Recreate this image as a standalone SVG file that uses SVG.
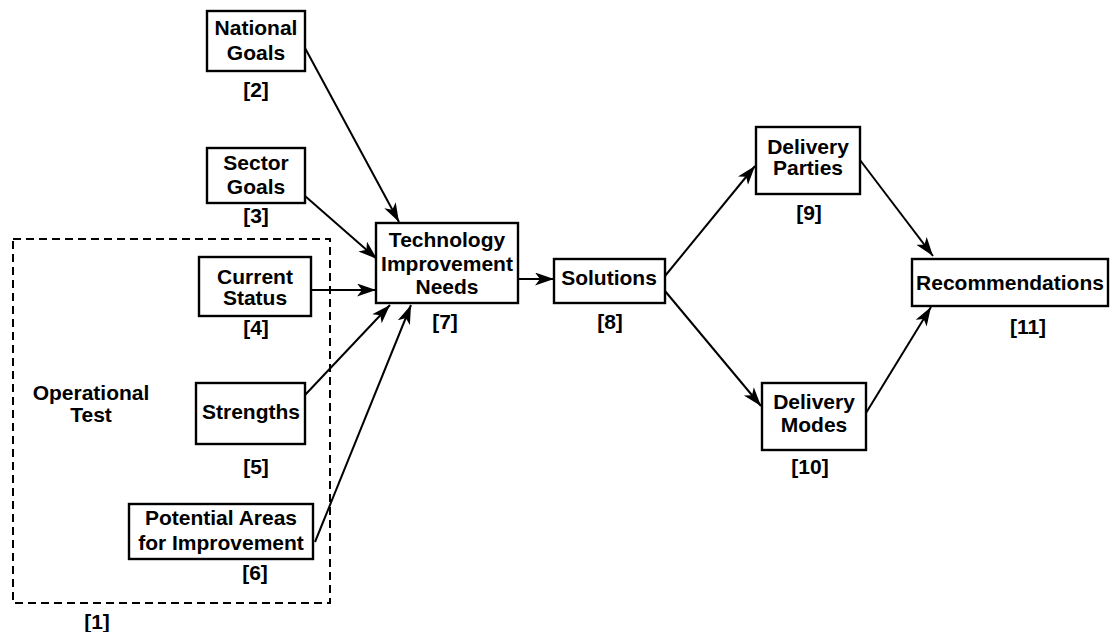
<svg xmlns="http://www.w3.org/2000/svg" width="1110" height="632" viewBox="0 0 1110 632">
<style>
.box{fill:#fff;stroke:#000;stroke-width:2.4}
.t{font-family:"Liberation Sans",Arial,sans-serif;font-weight:bold;font-size:21px;fill:#000;text-anchor:middle}
.c{fill:none;stroke:#000;stroke-width:2}
</style>
<defs>
<marker id="ah" markerUnits="userSpaceOnUse" markerWidth="22" markerHeight="14" refX="19" refY="6.5" orient="auto">
<path d="M0,0 L19,6.5 L0,13 L5,6.5 z" fill="#000"/>
</marker>
</defs>
<rect x="0" y="0" width="1110" height="632" fill="#fff"/>
<g id="group1">
<rect x="13" y="239" width="317" height="364" fill="none" stroke="#000" stroke-width="2" stroke-dasharray="8,5"/>
<text class="t" x="91" y="400">Operational</text>
<text class="t" x="91" y="422">Test</text>
<text class="t" x="97" y="629">[1]</text>
</g>
<g id="connectors">
<line class="c" x1="305" y1="48" x2="399" y2="222" marker-end="url(#ah)"/>
<line class="c" x1="305" y1="196" x2="377" y2="259" marker-end="url(#ah)"/>
<line class="c" x1="311" y1="290" x2="376" y2="290" marker-end="url(#ah)"/>
<line class="c" x1="305" y1="395" x2="390" y2="305" marker-end="url(#ah)"/>
<line class="c" x1="315" y1="542" x2="411" y2="305" marker-end="url(#ah)"/>
<line class="c" x1="518" y1="279" x2="554" y2="279" marker-end="url(#ah)"/>
<line class="c" x1="665" y1="276" x2="755" y2="166" marker-end="url(#ah)"/>
<line class="c" x1="665" y1="291" x2="761" y2="406" marker-end="url(#ah)"/>
<line class="c" x1="860" y1="160" x2="933" y2="256" marker-end="url(#ah)"/>
<line class="c" x1="866" y1="413" x2="931" y2="307" marker-end="url(#ah)"/>
</g>
<g id="n2">
<rect class="box" x="207" y="11" width="98" height="60"/>
<text class="t" x="256" y="35">National</text>
<text class="t" x="256" y="60">Goals</text>
<text class="t" x="256" y="97">[2]</text>
</g>
<g id="n3">
<rect class="box" x="207" y="148" width="98" height="55"/>
<text class="t" x="256" y="170">Sector</text>
<text class="t" x="256" y="194">Goals</text>
<text class="t" x="256" y="223">[3]</text>
</g>
<g id="n4">
<rect class="box" x="199" y="257" width="112" height="59"/>
<text class="t" x="255" y="284">Current</text>
<text class="t" x="255" y="305">Status</text>
<text class="t" x="256" y="335">[4]</text>
</g>
<g id="n5">
<rect class="box" x="196" y="383" width="109" height="61"/>
<text class="t" x="251" y="419">Strengths</text>
<text class="t" x="256" y="474">[5]</text>
</g>
<g id="n6">
<rect class="box" x="129" y="504" width="184" height="55"/>
<text class="t" x="221" y="525">Potential Areas</text>
<text class="t" x="221" y="550">for Improvement</text>
<text class="t" x="255" y="580">[6]</text>
</g>
<g id="n7">
<rect class="box" x="376" y="223" width="142" height="80"/>
<text class="t" x="447" y="247">Technology</text>
<text class="t" x="447" y="271">Improvement</text>
<text class="t" x="447" y="294">Needs</text>
<text class="t" x="445" y="329">[7]</text>
</g>
<g id="n8">
<rect class="box" x="554" y="259" width="111" height="44"/>
<text class="t" x="609" y="285">Solutions</text>
<text class="t" x="610" y="329">[8]</text>
</g>
<g id="n9">
<rect class="box" x="756" y="127" width="104" height="67"/>
<text class="t" x="808" y="154">Delivery</text>
<text class="t" x="808" y="175">Parties</text>
<text class="t" x="809" y="220">[9]</text>
</g>
<g id="n10">
<rect class="box" x="762" y="383" width="104" height="67"/>
<text class="t" x="814" y="409">Delivery</text>
<text class="t" x="814" y="432">Modes</text>
<text class="t" x="810" y="474">[10]</text>
</g>
<g id="n11">
<rect class="box" x="912" y="259" width="196" height="47"/>
<text class="t" x="1010" y="290">Recommendations</text>
<text class="t" x="1028" y="334">[11]</text>
</g>
</svg>
